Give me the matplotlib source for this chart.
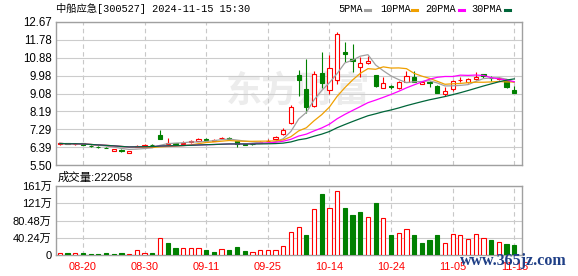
import matplotlib
matplotlib.use('Agg')
import matplotlib.pyplot as plt
from matplotlib.lines import Line2D
import numpy as np
import pandas as pd

# ---------------- data ----------------
title = '中船应急[300527] 2024-11-15 15:30'
vol_title = '成交量:222058'

dates = ['08-15', '08-16', '08-19', '08-20', '08-21', '08-22', '08-23', '08-26', '08-27', '08-28',
         '08-29', '08-30', '09-02', '09-03', '09-04', '09-05', '09-06', '09-09', '09-10', '09-11',
         '09-12', '09-13', '09-18', '09-19', '09-20', '09-23', '09-24', '09-25', '09-26', '09-27',
         '09-30', '10-08', '10-09', '10-10', '10-11', '10-14', '10-15', '10-16', '10-17', '10-18',
         '10-21', '10-22', '10-23', '10-24', '10-25', '10-28', '10-29', '10-30', '10-31', '11-01',
         '11-04', '11-05', '11-06', '11-07', '11-08', '11-11', '11-12', '11-13', '11-14', '11-15']

opens = [6.54, 6.60, 6.54, 6.58, 6.47, 6.41, 6.37, 6.22, 6.27, 6.11,
         6.42, 6.46, 6.51, 6.99, 6.56, 6.60, 6.57, 6.63, 6.72, 6.80,
         6.71, 6.84, 6.86, 6.70, 6.55, 6.56, 6.62, 6.68, 6.79, 7.07,
         7.59, 10.01, 9.30, 8.46, 10.13, 9.26, 9.76, 11.18, 10.82, 10.40,
         10.63, 10.01, 9.35, 9.45, 9.35, 9.68, 9.93, 9.58, 9.65, 9.46,
         9.04, 9.30, 9.74, 9.65, 9.83, 10.05, 9.86, 9.83, 9.76, 9.26]
closes = [6.58, 6.55, 6.57, 6.52, 6.43, 6.39, 6.35, 6.30, 6.18, 6.19,
          6.46, 6.50, 6.48, 6.80, 6.62, 6.57, 6.61, 6.68, 6.78, 6.77,
          6.76, 6.87, 6.82, 6.53, 6.52, 6.54, 6.67, 6.72, 6.89, 7.25,
          8.39, 9.76, 8.39, 10.04, 9.60, 10.35, 12.05, 11.05, 10.73, 10.60,
          10.73, 9.46, 9.60, 9.43, 9.68, 9.98, 9.68, 9.66, 9.62, 9.13,
          9.23, 9.71, 9.77, 9.81, 9.93, 9.95, 9.84, 9.86, 9.43, 9.09]
highs = [6.62, 6.61, 6.59, 6.59, 6.49, 6.43, 6.38, 6.32, 6.28, 6.21,
         6.49, 6.53, 6.53, 7.27, 6.87, 6.62, 6.72, 6.76, 6.84, 6.84,
         6.80, 6.90, 6.88, 6.72, 6.57, 6.58, 6.70, 6.80, 6.95, 7.34,
         8.52, 10.26, 10.80, 10.20, 11.18, 11.02, 12.17, 11.65, 11.57, 10.90,
         10.97, 10.01, 9.92, 9.52, 9.72, 10.21, 10.21, 9.70, 9.72, 9.50,
         9.40, 9.76, 9.90, 9.86, 10.18, 10.07, 9.96, 9.91, 9.76, 9.46]
lows = [6.52, 6.53, 6.52, 6.50, 6.41, 6.37, 6.33, 6.20, 6.16, 6.09,
        6.40, 6.44, 6.46, 6.78, 6.52, 6.54, 6.55, 6.60, 6.68, 6.74,
        6.69, 6.80, 6.79, 6.40, 6.50, 6.51, 6.58, 6.66, 6.76, 7.02,
        7.55, 8.98, 8.09, 8.40, 9.35, 9.08, 9.56, 10.68, 10.18, 9.93,
        10.56, 9.40, 9.35, 9.30, 9.33, 9.65, 9.66, 9.55, 9.43, 9.10,
        8.96, 9.22, 9.66, 9.63, 9.78, 9.87, 9.72, 9.76, 9.38, 9.09]
# volume in 万 (10k)
volumes = [3.9, 3.9, 3.9, 3.9, 2.3, 2.3, 3.9, 1.6, 3.9, 2.3,
           10.9, 5.4, 3.9, 38.9, 27.2, 15.6, 15.6, 15.6, 15.6, 11.7,
           6.2, 13.2, 11.7, 17.9, 9.3, 6.2, 10.9, 10.9, 10.9, 20.2,
           52.9, 64.5, 46.7, 107.3, 142.3, 108.9, 149.3, 109.7, 93.3, 101.1,
           87.9, 122.1, 85.5, 46.7, 50.6, 59.9, 46.7, 28.0, 35.8, 46.7,
           27.2, 48.2, 45.9, 37.3, 48.2, 38.9, 35.0, 29.5, 25.7, 22.2]

price_tick_labels = ['5.50', '6.39', '7.29', '8.19', '9.08', '9.98', '10.88', '11.78', '12.67']
vol_tick_labels = ['0', '40.24万', '80.48万', '121万', '161万']
date_tick_labels = ['08-20', '08-30', '09-11', '09-25', '10-14', '10-24', '11-05', '11-15']
ma_windows = [5, 10, 20, 30]
ma_names = ['5PMA', '10PMA', '20PMA', '30PMA']

# ---------------- style ----------------
RED = '#ff0000'
GREEN = '#008000'
MA_COLORS = ['#a0a0a0', '#f0a000', '#ff00ff', '#00663a']
GRID = '#cccccc'
FRAME = '#a0a0a0'
CJK = ['Liberation Sans', 'Noto Sans CJK SC']

W, H = 578, 276
fig = plt.figure(figsize=(W / 100, H / 100), dpi=100)
fig.patch.set_facecolor('white')


def fx(px):
    return px / W


def fy(py):
    return 1 - py / H


ax = fig.add_axes([fx(56), fy(165), fx(522) - fx(56), fy(22) - fy(165)])
axv = fig.add_axes([fx(56), fy(255), fx(522) - fx(56), fy(186) - fy(255)])

n = len(dates)
x = np.arange(n)
o = np.array(opens)
c = np.array(closes)
h = np.array(highs)
l = np.array(lows)
v = np.array(volumes)
up = c >= o
prev = np.concatenate([[c[0]], c[:-1]])
vol_up = c >= prev

# watermark
ax.text(0.52, 0.52, '东方财富', transform=ax.transAxes, ha='center', va='center',
        fontsize=26, fontweight='bold', color='#ececec', family=['Noto Sans CJK SC'], zorder=0)

# wicks
for i in range(n):
    ax.vlines(x[i], l[i], h[i], color=RED if up[i] else GREEN, lw=0.8, zorder=2)

body_lo = np.minimum(o, c)
body_h = np.maximum(np.abs(c - o), 0.005)
bw = 0.55
ax.bar(x[up], body_h[up], bottom=body_lo[up], width=bw, facecolor='white',
       edgecolor=RED, linewidth=0.8, zorder=3)
ax.bar(x[~up], body_h[~up], bottom=body_lo[~up], width=bw, facecolor=GREEN,
       edgecolor=GREEN, linewidth=0.8, zorder=3)

# moving averages
cs = pd.Series(c)
for w, col in zip(ma_windows, MA_COLORS):
    ax.plot(x, cs.rolling(w, min_periods=1).mean(), color=col, lw=0.9, zorder=4)

# volume
axv.bar(x[vol_up], v[vol_up], width=bw, facecolor='white', edgecolor=RED, linewidth=0.8, zorder=3)
axv.bar(x[~vol_up], v[~vol_up], width=bw, facecolor=GREEN, edgecolor=GREEN, linewidth=0.8, zorder=3)

# axes
date_idx = [dates.index(d) for d in date_tick_labels]
price_vals = [float(s) for s in price_tick_labels]
vol_vals = [float(s.replace('万', '')) for s in vol_tick_labels]

for a in (ax, axv):
    a.set_xlim(-0.5, 60.0)
    a.set_xticks(date_idx)
    a.xaxis.grid(True, color='#c8c8c8', lw=0.8, ls=(0, (4, 3)), zorder=1)
    a.yaxis.grid(True, color=GRID, lw=0.8, zorder=1)
    a.set_axisbelow(True)
    for s in a.spines.values():
        s.set_color(FRAME)
        s.set_linewidth(1.0)
    a.tick_params(length=0)

ax.set_ylim(5.50, 12.67)
ax.set_yticks(price_vals)
ax.set_yticklabels(price_tick_labels, fontsize=8.3, family=['Liberation Sans'], color='#000000')
ax.tick_params(axis='y', pad=3)
ax.set_xticklabels([])

axv.set_ylim(0, 161)
axv.set_yticks(vol_vals)
axv.set_yticklabels(vol_tick_labels, fontsize=8.0, family=CJK, color='#000000')
axv.tick_params(axis='y', pad=3)
axv.set_xticklabels(date_tick_labels, fontsize=7.9, family=['Liberation Sans'], color=RED)
axv.tick_params(axis='x', pad=5)

# title texts
fig.text(fx(56), fy(8.5), title, ha='left', va='center', fontsize=7.4,
         family=['Liberation Mono', 'Noto Sans CJK SC'], color='#000000')
fig.text(fx(58), fy(177), vol_title, ha='left', va='center', fontsize=8.2,
         family=CJK, color='#000000')

# legend
leg_x = [338, 380.5, 425, 471]
dash_x = [365, 412, 458.5, 505]
for name, lx, dx, col in zip(ma_names, leg_x, dash_x, MA_COLORS):
    fig.text(fx(lx), fy(9), name, ha='left', va='center', fontsize=7.4,
             family=['Liberation Mono'], color='#000000')
    fig.add_artist(Line2D([fx(dx), fx(dx + 5)], [fy(10), fy(10)], color=col, lw=2.2,
                          transform=fig.transFigure))

# site watermark
fig.text(fx(513), fy(261), 'www.365jz.com', ha='center', va='center', fontsize=11.5,
         family=['Liberation Serif'], fontweight='bold', color='#1f3f86', zorder=10)

fig.savefig('out.png', dpi=100, facecolor='white')
